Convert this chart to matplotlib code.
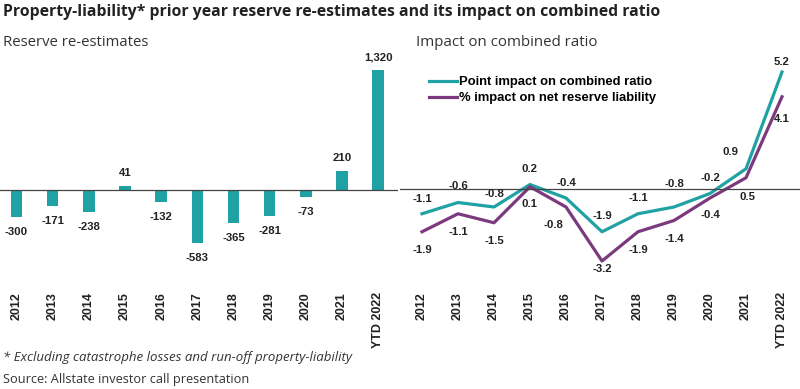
import matplotlib.pyplot as plt

# data
years = ["2012", "2013", "2014", "2015", "2016", "2017", "2018", "2019", "2020", "2021", "YTD 2022"]
reserve_reestimates = [-300, -171, -238, 41, -132, -583, -365, -281, -73, 210, 1320]
point_impact = [-1.1, -0.6, -0.8, 0.2, -0.4, -1.9, -1.1, -0.8, -0.2, 0.9, 5.2]
pct_impact = [-1.9, -1.1, -1.5, 0.1, -0.8, -3.2, -1.9, -1.4, -0.4, 0.5, 4.1]

TEAL = "#20a1a4"
PURPLE = "#7b3a7e"
DARK = "#222222"

W, H = 800, 389
fig = plt.figure(figsize=(W / 100, H / 100), dpi=100)


def px_axes(left, top, right, bottom):
    # pixel box (from top-left) -> figure fraction
    return fig.add_axes([left / W, 1 - bottom / H, (right - left) / W, (bottom - top) / H])


def pt(px):
    return px * 0.72


# ---------------- left: bars ----------------
ax1 = px_axes(0, 55, 398, 284)
x = list(range(len(years)))
ax1.bar(x, reserve_reestimates, width=0.32, color=TEAL)
ax1.axhline(0, color="#444444", lw=0.9)
ax1.set_xlim(-0.456, 10.55)
ax1.set_ylim(-1034, 1485)
for i, v in enumerate(reserve_reestimates):
    off = 13 if v > 0 else -15
    ax1.annotate(f"{v:,}", (i, v), xytext=(0, pt(off)), textcoords="offset points",
                 ha="center", va="center", fontsize=8.2, fontweight="bold",
                 family="Liberation Sans", color=DARK)

# ---------------- right: lines ----------------
ax2 = px_axes(400, 55, 800, 284)
ax2.plot(x, point_impact, color=TEAL, lw=2.3, label="Point impact on combined ratio")
ax2.plot(x, pct_impact, color=PURPLE, lw=2.3, label="% impact on net reserve liability")
ax2.axhline(0, color="#444444", lw=0.9)
ax2.set_xlim(-0.611, 10.5)
ax2.set_ylim(-4.222, 5.956)

# label offsets in pixels (dx, dy up)
teal_off = [(0, 15), (0, 17), (0, 13), (0, 16), (0, 15), (0, 16), (0, 16), (0, 23), (0, 16), (-16, 17), (0, 10)]
purple_off = [(0, -18), (0, -18), (0, -18), (0, -17), (-13, -18), (0, -8), (0, -18), (0, -18), (0, -17), (2, -19), (0, -22)]
for i, v in enumerate(point_impact):
    dx, dy = teal_off[i]
    ax2.annotate(f"{v}", (i, v), xytext=(pt(dx), pt(dy)), textcoords="offset points",
                 ha="center", va="center", fontsize=8.2, fontweight="bold",
                 family="Liberation Sans", color=DARK)
for i, v in enumerate(pct_impact):
    dx, dy = purple_off[i]
    ax2.annotate(f"{v}", (i, v), xytext=(pt(dx), pt(dy)), textcoords="offset points",
                 ha="center", va="center", fontsize=8.2, fontweight="bold",
                 family="Liberation Sans", color=DARK)

ax2.legend(loc="upper left", bbox_to_anchor=(0.06, 0.93), frameon=False,
           handlelength=2.1, handletextpad=0.15, labelspacing=0.3, borderaxespad=0,
           prop={"family": "Liberation Sans", "weight": "bold", "size": 9.4})

for ax in (ax1, ax2):
    for s in ax.spines.values():
        s.set_visible(False)
    ax.set_yticks([])
    ax.set_xticks(x)
    ax.set_xticklabels(years, rotation=90, fontsize=9, fontweight="bold", family="Liberation Sans", color=DARK)
    ax.tick_params(axis="x", length=0, pad=6)
    ax.patch.set_alpha(0)

# ---------------- texts ----------------
fig.text(3 / W, 1 - 12 / H, "Property-liability* prior year reserve re-estimates and its impact on combined ratio",
         fontsize=11.3, fontweight="bold", family="Open Sans", va="center", ha="left", color=DARK)
fig.text(3 / W, 1 - 43 / H, "Reserve re-estimates", fontsize=10.7, family="Open Sans",
         va="center", ha="left", color="#333333")
fig.text(416 / W, 1 - 43 / H, "Impact on combined ratio", fontsize=10.8, family="Open Sans",
         va="center", ha="left", color="#333333")
fig.text(3 / W, 1 - 358 / H, "* Excluding catastrophe losses and run-off property-liability",
         fontsize=9.5, style="italic", family="Open Sans", va="center", ha="left", color="#333333")
fig.text(3 / W, 1 - 380 / H, "Source: Allstate investor call presentation",
         fontsize=9.2, family="Open Sans", va="center", ha="left", color="#333333")

fig.savefig("out.png", dpi=100)
